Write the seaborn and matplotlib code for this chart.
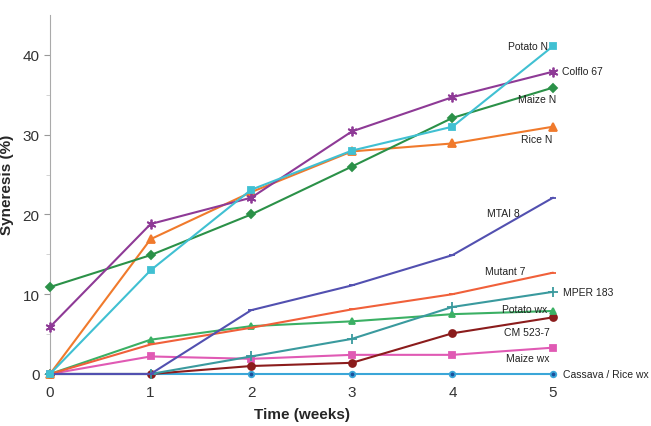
"""
Syneresis of starch gels over storage time (weeks).
Values read off the reference picture.
"""
import numpy as np
import pandas as pd
import seaborn as sns
import matplotlib.pyplot as plt

weeks = [0, 1, 2, 3, 4, 5]

potato_n = [0, 13.0, 23.1, 28.0, 31.0, 41.1]
colflo_67 = [5.9, 18.8, 22.1, 30.4, 34.7, 37.9]
maize_n = [10.9, 14.9, 20.0, 26.0, 32.1, 35.9]
rice_n = [0, 16.9, 22.8, 27.9, 28.9, 31.0]
mtai_8 = [0, 0, 8.0, 11.1, 14.9, 22.1]
mutant_7 = [0, 3.7, 5.8, 8.1, 10.0, 12.7]
mper_183 = [0, 0, 2.2, 4.4, 8.4, 10.3]
potato_wx = [0, 4.3, 6.0, 6.6, 7.5, 7.9]
cm_523_7 = [0, 0, 1.0, 1.4, 5.1, 7.1]
maize_wx = [0, 2.2, 1.9, 2.4, 2.4, 3.3]
cassava_rice_wx = [0, 0, 0, 0, 0, 0]

# name, values, colour, marker, marker size, label (x, y, ha)
series = [
    ('Cassava / Rice wx', cassava_rice_wx, '#3aa6d8', 'o', 4, (5.1, 0.0, 'left')),
    ('Maize wx', maize_wx, '#e05ab4', 's', 4.5, (4.75, 2.0, 'center')),
    ('CM 523-7', cm_523_7, '#8b1c1c', 'o', 5, (4.74, 5.3, 'center')),
    ('Potato wx', potato_wx, '#3bb064', '^', 5, (4.72, 8.1, 'center')),
    ('MPER 183', mper_183, '#3a9a9e', '+', 7, (5.1, 10.3, 'left')),
    ('Mutant 7', mutant_7, '#f0603a', '_', 5, (4.52, 12.9, 'center')),
    ('MTAI 8', mtai_8, '#5250b0', '_', 4, (4.51, 20.2, 'center')),
    ('Rice N', rice_n, '#f07a2c', '^', 5.5, (4.84, 29.4, 'center')),
    ('Maize N', maize_n, '#2b9148', 'D', 4.5, (4.84, 34.5, 'center')),
    ('Colflo 67', colflo_67, '#8e3a96', (6, 2, 0), 7, (5.09, 38.0, 'left')),
    ('Potato N', potato_n, '#40c0d2', 's', 5, (4.95, 41.1, 'right')),
]


def main():
    sns.set_style('ticks')
    plt.rcParams['font.family'] = ['Liberation Sans', 'DejaVu Sans']

    fig = plt.figure(figsize=(6.51, 4.27), dpi=100)
    ax = fig.add_axes([0.0768, 0.1218, 0.7727, 0.8407])

    for name, vals, col, mk, ms, lab in series:
        df = pd.DataFrame({'week': weeks, 'syn': vals})
        face = '#1a4f9c' if name.startswith('Cassava') else col
        sns.lineplot(data=df, x='week', y='syn', ax=ax, color=col,
                     linewidth=1.5, marker=mk, markersize=ms,
                     markerfacecolor=face, markeredgecolor=col,
                     markeredgewidth=1.3, clip_on=False, zorder=3)
        ax.text(lab[0], lab[1], name, ha=lab[2], va='center',
                fontsize=7.5, color='#222222')

    ax.set_xlim(0, 5)
    ax.set_ylim(0, 45)
    ax.set_xticks(weeks)
    ax.set_yticks([0, 10, 20, 30, 40])
    ax.set_yticks([5, 15, 25, 35], minor=True)
    ax.tick_params(axis='x', length=0, labelsize=11, pad=8, colors='#333333')
    ax.tick_params(axis='y', length=4, labelsize=11, colors='#333333')
    ax.tick_params(axis='y', which='minor', length=3, color='#cccccc')
    ax.tick_params(axis='y', which='major', color='#999999')
    for s in ['top', 'right', 'bottom']:
        ax.spines[s].set_visible(False)
    ax.spines['left'].set_color('#aaaaaa')
    ax.spines['left'].set_linewidth(0.8)

    ax.set_xlabel('Time (weeks)', fontsize=11, fontweight='bold', labelpad=6)
    ax.set_ylabel('Syneresis (%)', fontsize=11, fontweight='bold')
    ax.yaxis.set_label_coords(-0.072, 0.53)

    plt.savefig('out.png', format='png', dpi=100)


if __name__ == '__main__':
    main()
